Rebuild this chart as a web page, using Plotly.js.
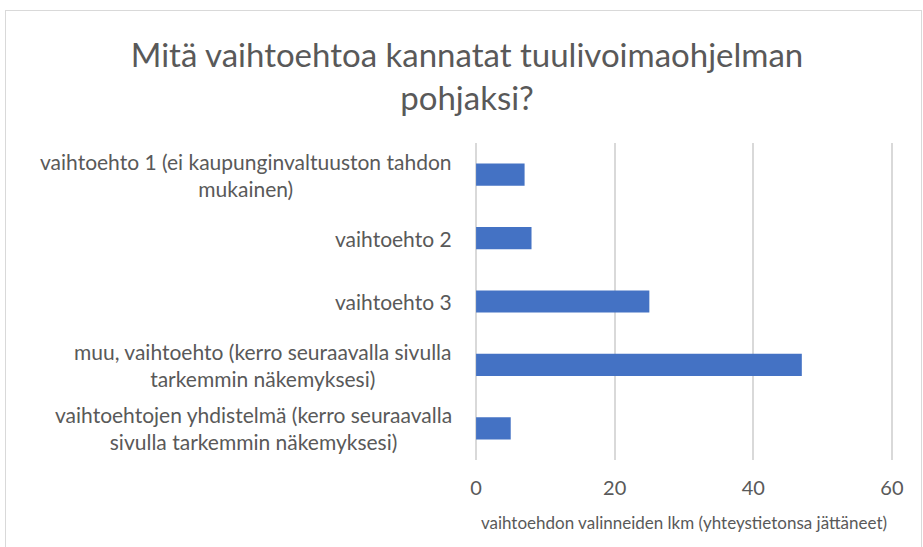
<!DOCTYPE html>
<html><head><meta charset="utf-8">
<script src="https://cdn.plot.ly/plotly-3.0.1.min.js"></script>
<style>
html,body{margin:0;padding:0;background:#fff;}
#frame{position:absolute;left:5px;top:10px;width:917px;height:545px;border:1px solid #d9d9d9;box-sizing:border-box;}
#chart{position:absolute;left:0;top:0;width:923px;height:547px;}
</style></head>
<body><div id="frame"></div><div id="chart"></div>
<script>
const categories = [
  'vaihtoehto 1 (ei kaupunginvaltuuston tahdon<br>mukainen)',
  'vaihtoehto 2',
  'vaihtoehto 3',
  'muu, vaihtoehto (kerro seuraavalla sivulla<br>tarkemmin näkemyksesi)',
  'vaihtoehtojen yhdistelmä (kerro seuraavalla<br>sivulla tarkemmin näkemyksesi)'
];
const counts = [7, 8, 25, 47, 5];
const xTicks = [0, 20, 40, 60];
const titleText = 'Mitä vaihtoehtoa kannatat tuulivoimaohjelman<br>pohjaksi?';
const xTitle = 'vaihtoehdon valinneiden lkm (yhteystietonsa jättäneet)';

const FONT = 'Lato, "Open Sans", sans-serif';
const GREY = '#595959';

const trace = {
  type: 'bar', orientation: 'h',
  y: categories, x: counts,
  marker: {color: '#4472C4'},
  hoverinfo: 'x'
};

const annotations = categories.map(c => ({
  xref: 'paper', yref: 'y', x: 0, y: c, xshift: -20,
  xanchor: 'right', yanchor: 'middle', align: 'center',
  text: c, showarrow: false,
  font: {family: FONT, size: 21, color: GREY}
}));

const layout = {
  width: 923, height: 547,
  margin: {l: 474, r: 29, t: 143, b: 87},
  paper_bgcolor: 'rgba(0,0,0,0)', plot_bgcolor: 'rgba(0,0,0,0)',
  showlegend: false,
  bargap: 0.65,
  title: {
    text: titleText, xref: 'container', yref: 'container',
    x: 0.506, xanchor: 'center', y: 1 - 67/547, yanchor: 'middle',
    font: {family: FONT, size: 33, color: GREY}
  },
  xaxis: {
    range: [-0.3, 60.3], tickvals: xTicks, ticktext: xTicks.map(String),
    showgrid: true, gridcolor: '#d9d9d9', gridwidth: 2,
    zeroline: false, showline: false, ticks: '',
    ticklabelstandoff: 14,
    tickfont: {family: FONT, size: 20, color: GREY},
    title: {text: xTitle, standoff: 19, font: {family: FONT, size: 17, color: GREY}},
    fixedrange: true
  },
  yaxis: {
    autorange: 'reversed', showticklabels: false, showgrid: false,
    zeroline: false, showline: false, ticks: '', fixedrange: true
  },
  annotations: annotations
};

Plotly.newPlot('chart', [trace], layout, {displayModeBar: false, staticPlot: true});
</script>
</body></html>
